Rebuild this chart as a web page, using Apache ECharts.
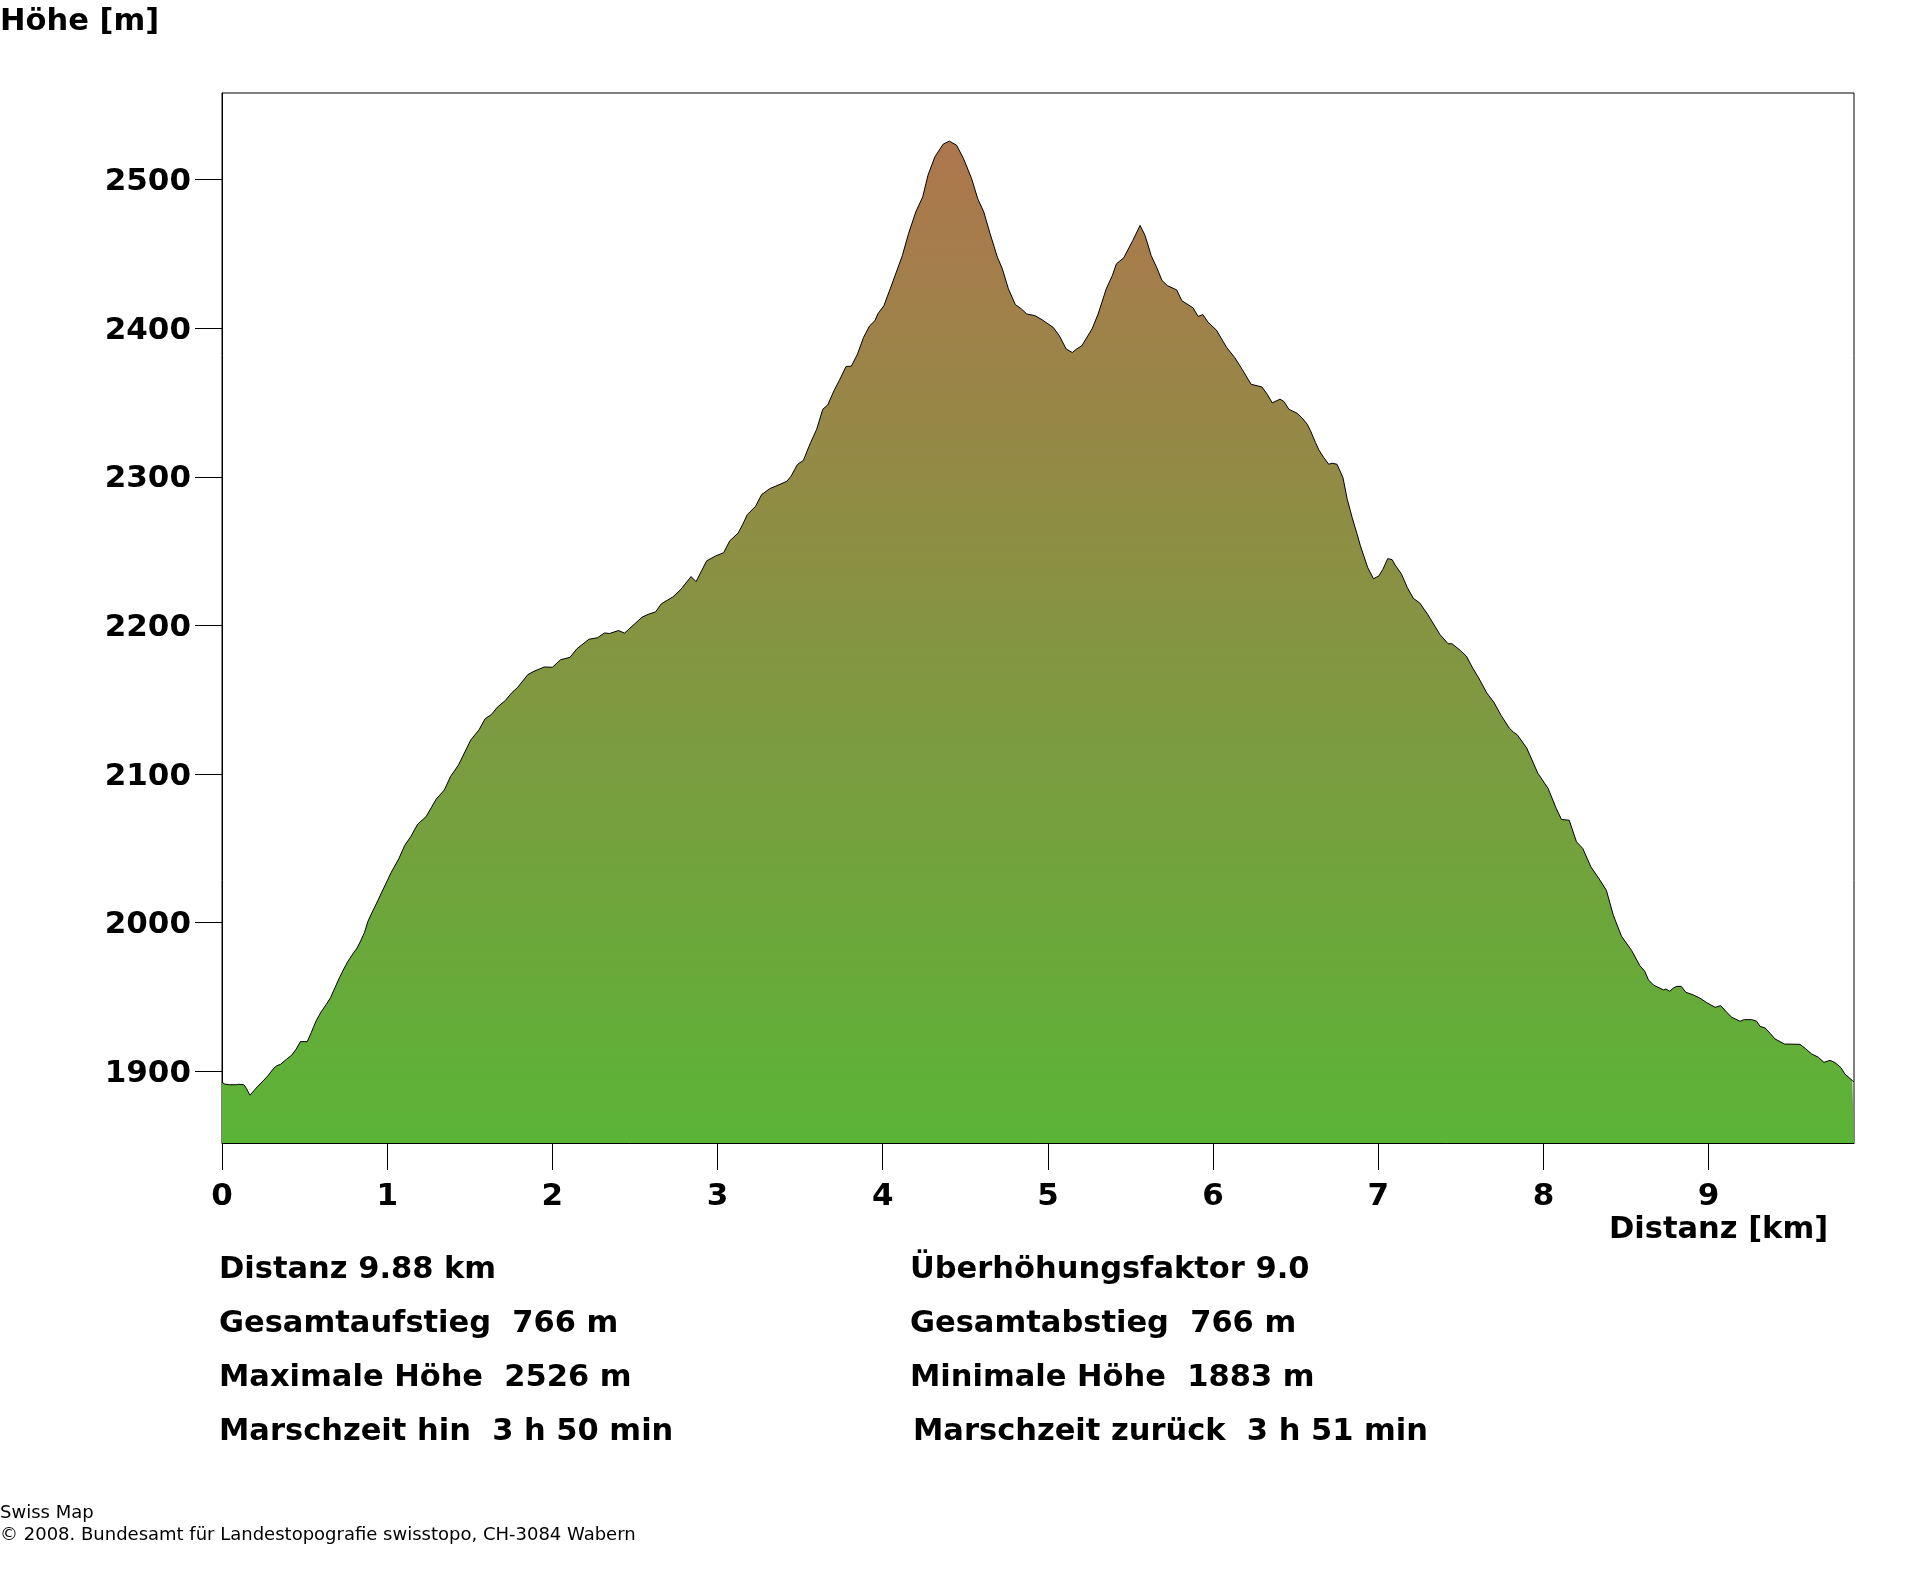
<!DOCTYPE html>
<html>
<head>
<meta charset="utf-8">
<title>Höhenprofil</title>
<style>
  html, body { margin: 0; padding: 0; background: #fff; }
  #main { width: 1920px; height: 1572px; }
</style>
<script src="https://cdn.jsdelivr.net/npm/echarts@6/dist/echarts.min.js"></script>
</head>
<body>
<div id="main"></div>
<script>
// Profile: distance in km, height in m
var distanceKm = [
  0, .016, .046, .086, .10, .133, .147, .169, .193, .217, .248, .278, .308, .329, .355, .389, .423, .449, .475, .516,
  .540, .570, .600, .631, .657, .685, .711, .738, .762, .792, .818, .842, .863, .883, .913, .944, .963, 1.025, 1.07, 1.106,
  1.143, 1.185, 1.235, 1.297, 1.346, 1.383, 1.432, 1.506, 1.556, 1.593, 1.63, 1.667, 1.716, 1.753, 1.79, 1.852, 1.889, 1.951, 2.0, 2.05,
  2.107, 2.148, 2.222, 2.272, 2.316, 2.346, 2.40, 2.437, 2.543, 2.58, 2.625, 2.66, 2.729, 2.773, 2.84, 2.87, 2.934, 2.988, 3.037, 3.074,
  3.124, 3.153, 3.18, 3.23, 3.267, 3.316, 3.378, 3.42, 3.445, 3.484, 3.519, 3.563, 3.60, 3.637, 3.667, 3.706, 3.736, 3.778, 3.81, 3.847,
  3.884, 3.921, 3.953, 3.97, 4.007, 4.045, 4.082, 4.119, 4.156, 4.20, 4.242, 4.274, 4.316, 4.366, 4.403, 4.447, 4.489, 4.538, 4.575, 4.612,
  4.65, 4.694, 4.724, 4.761, 4.803, 4.84, 4.872, 4.921, 4.958, 5.032, 5.069, 5.111, 5.148, 5.173, 5.205, 5.267, 5.304, 5.353, 5.39, 5.415,
  5.459, 5.514, 5.558, 5.588, 5.625, 5.662, 5.691, 5.723, 5.78, 5.81, 5.879, 5.909, 5.938, 5.97, 6.02, 6.082, 6.131, 6.175, 6.23, 6.296,
  6.328, 6.358, 6.405, 6.429, 6.459, 6.509, 6.54, 6.57, 6.59, 6.62, 6.64, 6.67, 6.70, 6.72, 6.75, 6.786, 6.812, 6.842, 6.872, 6.892,
  6.936, 6.971, 7.003, 7.028, 7.057, 7.084, 7.102, 7.139, 7.176, 7.213, 7.25, 7.299, 7.373, 7.423, 7.447, 7.497, 7.534, 7.571, 7.608, 7.657,
  7.699, 7.744, 7.793, 7.818, 7.842, 7.899, 7.966, 8.028, 8.077, 8.109, 8.156, 8.2, 8.238, 8.287, 8.336, 8.381, 8.423, 8.472, 8.534, 8.583,
  8.613, 8.636, 8.666, 8.727, 8.741, 8.765, 8.787, 8.807, 8.834, 8.862, 8.908, 8.948, 8.989, 9.039, 9.073, 9.11, 9.14, 9.19, 9.215, 9.261,
  9.291, 9.311, 9.342, 9.372, 9.402, 9.459, 9.553, 9.584, 9.624, 9.664, 9.698, 9.735, 9.765, 9.801, 9.825, 9.87, 9.88
];
var elevationM = [
  1892.6, 1891.5, 1891, 1891, 1891.3, 1891, 1888.6, 1884, 1887, 1890, 1893.5, 1897, 1901.4, 1903.6, 1904.8, 1908, 1911, 1915, 1920, 1920,
  1926, 1934, 1940, 1945, 1949.6, 1956.6, 1963, 1969, 1974, 1979, 1983, 1988.4, 1993.6, 2000.8, 2008, 2015, 2019.6, 2034, 2043, 2052,
  2058, 2066.4, 2071.3, 2083.2, 2089.3, 2098.3, 2106.2, 2123, 2129.8, 2137.3, 2140, 2145, 2149.6, 2154.6, 2158.4, 2167, 2169.2, 2172.1, 2171.9, 2177,
  2178.6, 2184.3, 2190.8, 2191.7, 2195, 2194.6, 2196.6, 2194.9, 2205.6, 2207.5, 2209.2, 2214.6, 2219.2, 2223.7, 2232.9, 2229.5, 2243.5, 2246.8, 2249, 2257,
  2262.1, 2268.2, 2274.6, 2280.2, 2288.1, 2292.1, 2295, 2297.1, 2300.5, 2308.4, 2311, 2323, 2332, 2345.5, 2348.4, 2358.3, 2364.6, 2374.3, 2374.5, 2382.6,
  2393.9, 2401.7, 2405.1, 2409.6, 2415.2, 2426.5, 2437.7, 2449, 2463.6, 2478.2, 2488.4, 2503, 2515.4, 2523.9, 2525.9, 2523.2, 2514.2, 2500.7, 2487.2, 2478.2,
  2463.6, 2447.9, 2440, 2426.5, 2415.9, 2413, 2409.6, 2408.5, 2406.2, 2400.6, 2395, 2386, 2383.7, 2386, 2388.2, 2399.5, 2409.6, 2426.5, 2435.5, 2443.4,
  2447.4, 2459.1, 2469.2, 2462.5, 2449, 2440, 2432.1, 2428.7, 2425.8, 2418.6, 2413.7, 2408, 2409.2, 2404, 2398.8, 2387.1, 2380.3, 2372.5, 2362.3, 2360.5,
  2355.6, 2349.8, 2352.3, 2350.7, 2345.5, 2342.8, 2339.5, 2335.4, 2331, 2323.1, 2318.2, 2313, 2308.5, 2309.2, 2308.5, 2299.6, 2285, 2272.6, 2261.4, 2253.6,
  2239, 2231.5, 2233.3, 2237.8, 2245, 2244.3, 2240.7, 2234.9, 2225.5, 2218.2, 2215.3, 2207.5, 2194, 2187.7, 2187.7, 2183.2, 2179.3, 2171.5, 2164.7, 2154.6,
  2148.5, 2139.5, 2131, 2128.3, 2126.4, 2117.5, 2100.6, 2090.4, 2077, 2069.5, 2069, 2054.4, 2050, 2037.6, 2029.7, 2021.8, 2005, 1991, 1981.3, 1971.2,
  1967.4, 1961.5, 1958.1, 1954.8, 1955.4, 1953.9, 1956.1, 1957.2, 1957.2, 1953.2, 1951.4, 1949.2, 1946.2, 1943.1, 1944.2, 1939.7, 1936.4, 1933.7, 1934.8, 1934.8,
  1933.7, 1930.3, 1929.2, 1925.6, 1921.8, 1918.4, 1918.2, 1915.5, 1911.7, 1909.5, 1906.1, 1907.4, 1905.9, 1902.5, 1898.2, 1893.8, 1893
];
var xTicks = [0, 1, 2, 3, 4, 5, 6, 7, 8, 9];
var yTicks = [1900, 2000, 2100, 2200, 2300, 2400, 2500];
var statsLeft = ['Distanz 9.88 km', 'Gesamtaufstieg  766 m', 'Maximale Höhe  2526 m', 'Marschzeit hin  3 h 50 min'];
var statsRight = ['Überhöhungsfaktor 9.0', 'Gesamtabstieg  766 m', 'Minimale Höhe  1883 m', 'Marschzeit zurück  3 h 51 min'];
var statsBaseline = [1281, 1335, 1389, 1443];
var statsRightX = [910, 910, 910, 913];

var boldFont = 'bold 30.5px "DejaVu Sans"';
var smallFont = '18px "DejaVu Sans"';

function label(text, x, baseline, font) {
  return {
    type: 'text', left: x, top: baseline - 26,
    style: { text: text, font: font, fill: '#000' }
  };
}

var texts = [
  label('Höhe [m]', 0, 33, boldFont),
  label('Distanz [km]', 1609, 1241, boldFont)
];
statsLeft.forEach(function (s, i) { texts.push(label(s, 219, statsBaseline[i], boldFont)); });
statsRight.forEach(function (s, i) { texts.push(label(s, statsRightX[i], statsBaseline[i], boldFont)); });
texts.push({ type: 'text', left: 0, top: 1504, style: { text: 'Swiss Map', font: smallFont, fill: '#000' } });
texts.push({ type: 'text', left: 0, top: 1526, style: { text: '© 2008. Bundesamt für Landestopografie swisstopo, CH-3084 Wabern', font: smallFont, fill: '#000' } });

function plainNumber(v) { return String(v); }
function shiftedNumber(v) { return '{v|' + v + '}'; }

var chart = echarts.init(document.getElementById('main'));
chart.setOption({
  animation: false,
  backgroundColor: '#fff',
  grid: { left: 222, top: 93, width: 1632, height: 1050, show: true, borderColor: '#000', borderWidth: 1, backgroundColor: 'transparent' },
  xAxis: {
    type: 'value', min: 0, max: 9.88,
    axisLine: { onZero: false, lineStyle: { color: '#000', width: 1 } },
    axisTick: { length: 27, lineStyle: { color: '#000', width: 1 }, customValues: xTicks },
    axisLabel: { color: '#000', fontFamily: 'DejaVu Sans', fontWeight: 'bold', fontSize: 31, margin: 38, formatter: plainNumber, customValues: xTicks },
    splitLine: { show: false }
  },
  yAxis: {
    type: 'value', min: 1851.8, max: 2558.3,
    axisLine: { onZero: false, lineStyle: { color: '#000', width: 1 } },
    axisTick: { length: 27, lineStyle: { color: '#000', width: 1 }, customValues: yTicks },
    axisLabel: {
      margin: 31, formatter: shiftedNumber, customValues: yTicks,
      rich: { v: { color: '#000', fontFamily: 'DejaVu Sans', fontWeight: 'bold', fontSize: 31, padding: [5, 0, 0, 0] } }
    },
    splitLine: { show: false }
  },
  series: [{
    type: 'line',
    data: distanceKm.map(function (d, i) { return [d, elevationM[i]]; }),
    symbol: 'none',
    smooth: false,
    lineStyle: { color: '#000', width: 1 },
    areaStyle: {
      opacity: 1,
      origin: 'start',
      color: new echarts.graphic.LinearGradient(0, 0, 0, 1, [
        { offset: 0, color: '#ae764d' },
        { offset: 1, color: '#5ab436' }
      ])
    }
  }],
  graphic: texts
});
</script>
</body>
</html>
